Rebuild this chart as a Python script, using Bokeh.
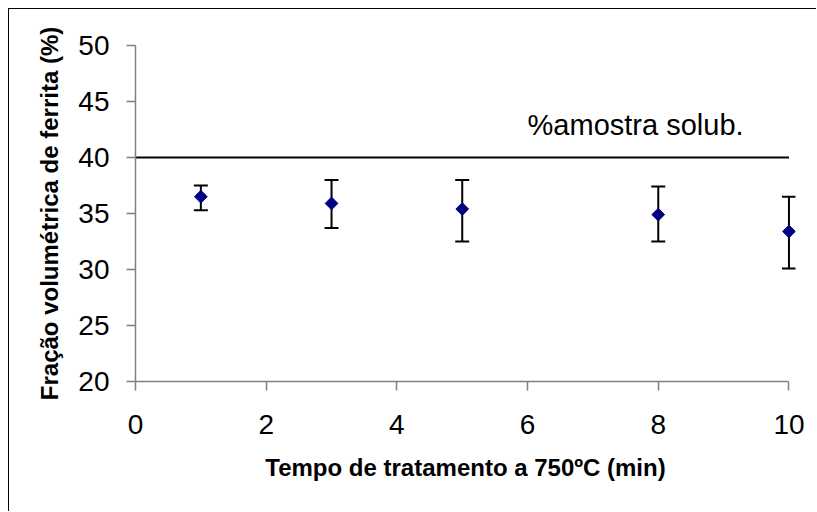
import math
from bokeh.plotting import figure
from bokeh.models import ColumnDataSource, Whisker, TeeHead, Label, FixedTicker, Range1d
from bokeh.embed import file_html
from bokeh.resources import INLINE

# ---- data ----
time_min = [1, 3, 5, 8, 10]
ferrite_pct = [36.5, 35.9, 35.4, 34.9, 33.4]
err_upper = [37.5, 38.0, 38.0, 37.4, 36.5]
err_lower = [35.3, 33.7, 32.5, 32.5, 30.1]
ref_x = [0, 10]
ref_y = [40, 40]
ref_label = "%amostra solub."
ref_label_x = 6.0
ref_label_y = 42.9
x_ticks = [0, 2, 4, 6, 8, 10]
y_ticks = [20, 25, 30, 35, 40, 45, 50]
x_title = "Tempo de tratamento a 750ºC (min)"
y_title = "Fração volumétrica de ferrita (%)"

FONT = "Liberation Sans"

p = figure(width=808, height=503, output_backend="svg", toolbar_location=None,
           x_range=Range1d(0, 10.1), y_range=Range1d(20, 50),
           min_border_left=126, min_border_right=22, min_border_top=36, min_border_bottom=131)
# chart-area border: only its left and top edges are visible in the reference
p.styles = {"margin-left": "9px", "margin-top": "9px",
            "box-shadow": "-1px -1px 0px 0px #000000"}
p.outline_line_color = None
p.grid.visible = False
p.background_fill_color = "white"
p.border_fill_color = "white"

src = ColumnDataSource(dict(x=time_min, y=ferrite_pct, upper=err_upper, lower=err_lower))

# reference line
p.line(ref_x, ref_y, line_color="black", line_width=2)

# error bars
head_u = TeeHead(size=14, line_color="black", line_width=2)
head_l = TeeHead(size=14, line_color="black", line_width=2)
w = Whisker(base="x", upper="upper", lower="lower", source=src,
            line_color="black", line_width=2, upper_head=head_u, lower_head=head_l)
p.add_layout(w)

# markers
p.scatter("x", "y", source=src, marker="square", angle=math.pi / 4, size=9,
          fill_color="#000080", line_color="#000080")

p.add_layout(Label(x=ref_label_x, y=ref_label_y, text=ref_label, text_font=FONT,
                   text_font_size="29px", text_color="black", text_baseline="alphabetic"))

for ax in (p.xaxis[0], p.yaxis[0]):
    ax.axis_line_color = "#808080"
    ax.axis_line_width = 1.5
    ax.major_tick_line_color = "#808080"
    ax.major_tick_line_width = 1.5
    ax.major_tick_out = 9
    ax.major_tick_in = 0
    ax.minor_tick_line_color = None
    ax.major_label_text_font = FONT
    ax.major_label_text_font_size = "28px"
    ax.major_label_text_color = "black"
    ax.axis_label_text_font = FONT
    ax.axis_label_text_font_size = "24px"
    ax.axis_label_text_font_style = "bold"
    ax.axis_label_text_color = "black"

p.xaxis.bounds = (0, 10)
p.xaxis.ticker = FixedTicker(ticks=x_ticks)
p.yaxis.ticker = FixedTicker(ticks=y_ticks)
p.xaxis.axis_label = x_title
p.yaxis.axis_label = y_title
p.xaxis.major_label_standoff = 24
p.yaxis.major_label_standoff = 17
p.xaxis.axis_label_standoff = 17
p.yaxis.axis_label_standoff = 12

open("out.html", "w").write(file_html(p, INLINE))
